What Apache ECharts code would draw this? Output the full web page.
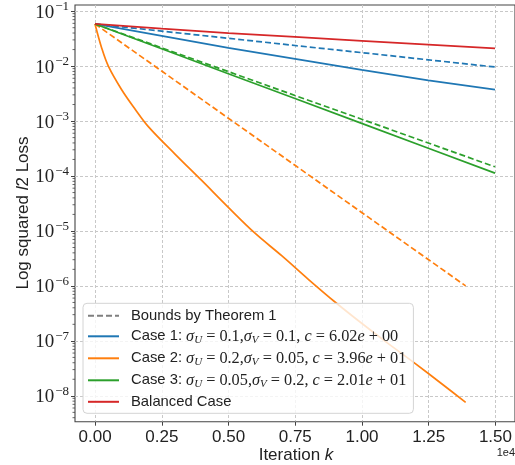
<!DOCTYPE html>
<html>
<head>
<meta charset="utf-8">
<script src="https://cdn.jsdelivr.net/npm/echarts@6/dist/echarts.min.js"></script>
<style>html,body{margin:0;padding:0;background:#fff}#c{width:515px;height:465px}</style>
</head>
<body>
<div id="c"></div>
<script>
// ---- data (iteration k, loss) ----
const iterCoarse = [0, 2500, 5000, 7500, 10000, 12500, 15000];
const case1Loss  = [0.0585, 0.0355, 0.0214, 0.0135, 0.00851, 0.00550, 0.00372];
const case1Bound = [0.0585, 0.0433, 0.0321, 0.0237, 0.0176, 0.0130, 0.00964];
const case3Loss  = [0.0585, 0.02065, 0.00728, 0.00257, 0.000908, 0.000320, 0.000113];
const case3Bound = [0.0585, 0.02153, 0.00794, 0.00292, 0.00108, 0.000398, 0.000147];
const balancedLoss = [0.0585, 0.0479, 0.0398, 0.0339, 0.0288, 0.0245, 0.0210];
const iterCase2Bound = [0, 2500, 5000, 7500, 10000, 12500, 13900];
const case2Bound = [0.0585, 0.00813, 0.001127, 0.0001567, 2.17e-5, 3.02e-6, 1.0e-6];
const iterCase2 = [0, 250, 500, 1000, 1500, 2000, 3000, 4000, 5000, 6000, 7000, 8000, 9000, 10000, 11000, 12000, 13000, 13900];
const case2Loss = [0.0585, 0.0214, 0.0100, 0.00372, 0.00166, 7.94e-4, 2.51e-4, 8.3e-5, 2.69e-5, 9.1e-6, 3.55e-6, 1.32e-6, 5.1e-7, 2.09e-7, 8.9e-8, 3.89e-8, 1.66e-8, 7.6e-9];
const xTicks = [0, 2500, 5000, 7500, 10000, 12500, 15000];
const legendNames = ['Bounds by Theorem 1', 'Case 1', 'Case 2', 'Case 3', 'Balanced Case'];

const zip = (xs, ys) => xs.map((x, i) => [x, ys[i]]);
const C = {blue:'#1f77b4', orange:'#ff7f0e', green:'#2ca02c', red:'#d62728', gray:'#7f7f7f'};
const LW = 1.7;
const DASH = [6, 3];

function lineSeries(name, data, color, dashed, smooth) {
  return {
    type: 'line', name, data, xAxisIndex: 0, yAxisIndex: 0,
    symbol: 'none', showSymbol: false, smooth: smooth || false, clip: true,
    lineStyle: {color, width: LW, type: dashed ? DASH : 'solid'},
    itemStyle: {color}, emphasis: {disabled: true}, silent: true
  };
}

// minor log ticks (2..9 x 10^e) for the y axis frame
const minorVals = [];
for (let e = -9; e <= -1; e++) for (let k = 2; k <= 9; k++) {
  const v = k * Math.pow(10, e);
  if (v > Math.pow(10, -8.471) && v < Math.pow(10, -0.888)) minorVals.push([0, v]);
}

const MS = 16.3;
const legendRich = {
  g: {width: 7, lineHeight: 18},
  i: {fontFamily: 'Liberation Serif', fontStyle: 'italic', fontSize: MS, lineHeight: 18, verticalAlign: 'middle'},
  r: {fontFamily: 'Liberation Serif', fontSize: MS, lineHeight: 18, verticalAlign: 'middle'},
  s: {fontFamily: 'Liberation Serif', fontStyle: 'italic', fontSize: 11, lineHeight: 9, verticalAlign: 'bottom'},
  t: {fontFamily: 'Liberation Sans', fontSize: 14.8, lineHeight: 18, verticalAlign: 'middle'}
};
const legendText = {
  'Bounds by Theorem 1': '{g|}{t|Bounds by Theorem 1}',
  'Case 1': '{g|}{t|Case 1: }{i|σ}{s|U}{r| = 0.1,}{i|σ}{s|V}{r| = 0.1, }{i|c}{r| = 6.02}{i|e}{r| + 00}',
  'Case 2': '{g|}{t|Case 2: }{i|σ}{s|U}{r| = 0.2,}{i|σ}{s|V}{r| = 0.05, }{i|c}{r| = 3.96}{i|e}{r| + 01}',
  'Case 3': '{g|}{t|Case 3: }{i|σ}{s|U}{r| = 0.05,}{i|σ}{s|V}{r| = 0.2, }{i|c}{r| = 2.01}{i|e}{r| + 01}',
  'Balanced Case': '{g|}{t|Balanced Case}'
};

const chart = echarts.init(document.getElementById('c'), null, {renderer: 'canvas'});
chart.setOption({
  animation: false,
  backgroundColor: '#fff',
  grid: [
    {left: 75, top: 5, width: 442.4, height: 416.7, show: true, borderColor: '#444', borderWidth: 1.1, backgroundColor: 'transparent'},
    {left: 95.1, top: 5, width: 402.3, height: 416.7},
    {left: 75, top: 11.15, width: 442.4, height: 384.65}
  ],
  xAxis: [
    {gridIndex: 0, type: 'value', min: -750, max: 15750, show: false},
    {gridIndex: 1, type: 'value', min: 0, max: 15000, interval: 2500, position: 'bottom',
     axisLine: {show: false},
     axisTick: {show: true, length: 4, lineStyle: {color: '#444', width: 1}},
     axisLabel: {margin: 7, fontFamily: 'Liberation Sans', fontSize: 17, color: '#222',
                 formatter: v => (v / 1e4).toFixed(2)},
     splitLine: {show: true, lineStyle: {color: '#c8c8c8', width: 1, type: [3, 2]}}},
    {gridIndex: 2, type: 'value', show: false, min: 0, max: 1}
  ],
  yAxis: [
    {gridIndex: 0, type: 'log', logBase: 10, min: Math.pow(10, -8.471), max: Math.pow(10, -0.888), show: false},
    {gridIndex: 1, type: 'value', show: false, min: 0, max: 1},
    {gridIndex: 2, type: 'log', logBase: 10, min: 1e-8, max: 1e-1, interval: 1, position: 'left',
     axisLine: {show: false},
     axisTick: {show: true, length: 4, lineStyle: {color: '#444', width: 1}},
     axisLabel: {margin: 6, color: '#222',
       formatter: v => '{b|10}{e|−' + Math.round(-Math.log10(v)) + '}',
       rich: {
         b: {fontFamily: 'Liberation Serif', fontSize: 19, lineHeight: 22, verticalAlign: 'bottom'},
         e: {fontFamily: 'Liberation Serif', fontSize: 13, lineHeight: 22, verticalAlign: 'top', padding: [0, 0, 0, 1]}
       }},
     splitLine: {show: true, lineStyle: {color: '#c8c8c8', width: 1, type: [3, 2]}}}
  ],
  legend: {
    data: legendNames,
    left: 83, top: 303.3, orient: 'vertical',
    itemWidth: 31, itemHeight: 14, itemGap: 5,
    padding: [5, 7, 4, 4],
    backgroundColor: 'rgba(255,255,255,0.8)',
    borderColor: '#d4d4d4', borderWidth: 1, borderRadius: 4,
    selectedMode: false,
    itemStyle: {opacity: 0},
    lineStyle: {width: 2},
    textStyle: {color: '#222', fontFamily: 'Liberation Sans', fontSize: 14.8, rich: legendRich},
    formatter: n => legendText[n]
  },
  graphic: [
    {type: 'text', x: 23, y: 213, rotation: Math.PI / 2, z: 10,
     style: {text: '{n|Log squared }{it|l}{n|2 Loss}', align: 'center', verticalAlign: 'middle', fill: '#222',
             rich: {n: {fontFamily: 'Liberation Sans', fontSize: 17}, it: {fontFamily: 'Liberation Sans', fontSize: 17, fontStyle: 'italic'}}}},
    {type: 'text', x: 296, y: 455, z: 10,
     style: {text: '{n|Iteration }{it|k}', align: 'center', verticalAlign: 'middle', fill: '#222',
             rich: {n: {fontFamily: 'Liberation Sans', fontSize: 17}, it: {fontFamily: 'Liberation Sans', fontSize: 17, fontStyle: 'italic'}}}},
    {type: 'text', x: 515, y: 453, z: 10,
     style: {text: '1e4', align: 'right', verticalAlign: 'middle', fill: '#222', fontFamily: 'Liberation Sans', fontSize: 11}}
  ],
  series: [
    {type: 'line', name: 'Bounds by Theorem 1', data: [], xAxisIndex: 0, yAxisIndex: 0, symbol: 'none',
     lineStyle: {color: C.gray, width: LW, type: DASH}, itemStyle: {color: C.gray}},
    lineSeries('Case 1', zip(iterCoarse, case1Loss), C.blue, false),
    lineSeries('Case 1 bound', zip(iterCoarse, case1Bound), C.blue, true),
    lineSeries('Case 2', zip(iterCase2, case2Loss), C.orange, false, 0.35),
    lineSeries('Case 2 bound', zip(iterCase2Bound, case2Bound), C.orange, true),
    lineSeries('Case 3', zip(iterCoarse, case3Loss), C.green, false),
    lineSeries('Case 3 bound', zip(iterCoarse, case3Bound), C.green, true),
    lineSeries('Balanced Case', zip(iterCoarse, balancedLoss), C.red, false),
    {type: 'custom', name: 'minor ticks', xAxisIndex: 0, yAxisIndex: 0, data: minorVals, silent: true, clip: false,
     renderItem: (params, api) => {
       const p = api.coord([-750, api.value(1)]);
       return {type: 'line', shape: {x1: p[0] - 2.5, y1: p[1], x2: p[0], y2: p[1]},
               style: {stroke: '#444', lineWidth: 0.8}};
     }}
  ]
});
</script>
</body>
</html>
